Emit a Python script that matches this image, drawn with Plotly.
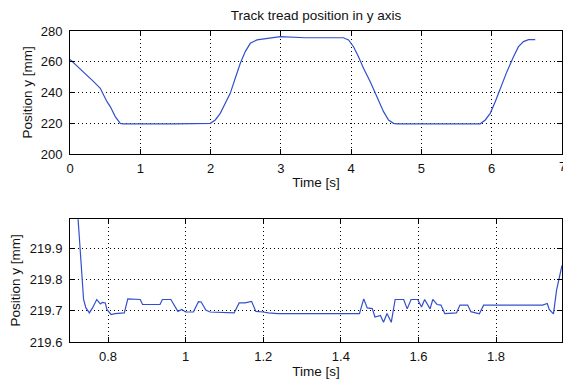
import plotly.graph_objects as go

# ---- Top panel: full trajectory ----
time_top = [0.000, 0.194, 0.336, 0.431, 0.526, 0.573, 0.644, 0.715, 0.760, 1.500, 1.996,
            2.067, 2.138, 2.209, 2.280, 2.351, 2.423, 2.494, 2.565, 2.660, 2.802, 2.992,
            3.345, 3.890, 3.963, 4.034, 4.105, 4.176, 4.272, 4.367, 4.461, 4.532, 4.603,
            4.650, 5.837, 5.908, 5.979, 6.050, 6.121, 6.216, 6.310, 6.381, 6.452, 6.524, 6.619]
pos_top = [261.6, 253.6, 247.1, 242.8, 234.1, 230.9, 224.4, 220.0, 219.7, 219.7, 220.0,
           222.2, 226.5, 233.0, 239.5, 249.3, 259.0, 266.6, 272.0, 274.2, 275.3, 276.3,
           275.6, 275.6, 274.2, 269.8, 263.3, 255.8, 247.1, 237.4, 227.6, 222.2, 220.0,
           219.7, 219.7, 222.2, 226.5, 234.1, 242.8, 253.6, 263.3, 269.8, 273.1, 274.4, 274.4]

# ---- Bottom panel: zoom on the first flat section ----
time_zoom = [0.702, 0.712, 0.723, 0.728, 0.733, 0.737, 0.743, 0.752, 0.760, 0.771, 0.780,
             0.786, 0.793, 0.797, 0.808, 0.818, 0.842, 0.851, 0.883, 0.889, 0.934, 0.940,
             0.962, 0.973, 0.980, 0.990, 1.000, 1.020, 1.033, 1.040, 1.052, 1.063, 1.125,
             1.138, 1.153, 1.170, 1.181, 1.200, 1.213, 1.238, 1.448, 1.459, 1.468, 1.481,
             1.488, 1.502, 1.510, 1.519, 1.530, 1.540, 1.562, 1.571, 1.581, 1.598, 1.608,
             1.616, 1.630, 1.637, 1.648, 1.658, 1.668, 1.698, 1.707, 1.727, 1.735, 1.757,
             1.768, 1.920, 1.932, 1.937, 1.948, 1.956, 1.970]
pos_zoom = [220.90, 220.35, 219.99, 219.886, 219.79, 219.736, 219.709, 219.693, 219.709, 219.736, 219.722,
            219.727, 219.725, 219.704, 219.688, 219.691, 219.693, 219.738, 219.736, 219.720, 219.720, 219.736,
            219.736, 219.714, 219.698, 219.704, 219.696, 219.696, 219.729, 219.728, 219.702, 219.696, 219.693,
            219.725, 219.725, 219.730, 219.698, 219.696, 219.693, 219.691, 219.691, 219.738, 219.709, 219.707,
            219.680, 219.685, 219.663, 219.691, 219.663, 219.736, 219.736, 219.706, 219.736, 219.736, 219.712,
            219.736, 219.706, 219.736, 219.720, 219.718, 219.691, 219.693, 219.718, 219.718, 219.697, 219.690,
            219.718, 219.718, 219.723, 219.704, 219.690, 219.766, 219.845]

top_xticks = [0, 1, 2, 3, 4, 5, 6, 7]
top_yticks = [200, 220, 240, 260, 280]
zoom_xticks = [0.8, 1.0, 1.2, 1.4, 1.6, 1.8]
zoom_xticklabels = ["0.8", "1", "1.2", "1.4", "1.6", "1.8"]
zoom_yticks = [219.6, 219.7, 219.8, 219.9]
zoom_yticklabels = ["219.6", "219.7", "219.8", "219.9"]

FONT = "Liberation Sans, Arial, Helvetica, sans-serif"
LINE_COLOR = "rgb(50,80,205)"

fig = go.Figure()
fig.add_trace(go.Scatter(x=time_top, y=pos_top, mode="lines",
                         line=dict(color=LINE_COLOR, width=1.2),
                         xaxis="x", yaxis="y", hoverinfo="skip"))
fig.add_trace(go.Scatter(x=time_zoom, y=pos_zoom, mode="lines",
                         line=dict(color=LINE_COLOR, width=1.2),
                         xaxis="x2", yaxis="y2", hoverinfo="skip"))

common = dict(showline=True, linecolor="black", linewidth=1, mirror="ticks",
              ticks="inside", ticklen=5, tickcolor="black", tickwidth=1,
              showgrid=True, gridcolor="black", gridwidth=1, griddash="1px,3px",
              zeroline=False, automargin=False,
              tickfont=dict(family=FONT, size=13, color="#111"))

title_font = dict(family=FONT, size=13.5, color="#111")

PLOT_L, PLOT_W = 70, 492

def ylabel(text, px, y_mid_paper):
    return dict(text=text, textangle=-90, xref="paper", yref="paper",
                x=(px - PLOT_L) / PLOT_W, y=y_mid_paper, xanchor="center", yanchor="middle",
                showarrow=False, font=title_font)

fig.update_layout(
    width=563, height=383, autosize=False,
    margin=dict(l=70, r=1, t=31, b=41),
    paper_bgcolor="white", plot_bgcolor="white",
    showlegend=False,
    title=dict(text="Track tread position in y axis", x=316 / 563, xref="container",
               xanchor="center", y=1 - 15 / 383, yref="container", yanchor="middle",
               font=dict(family=FONT, size=13.5, color="#111")),
    xaxis=dict(domain=[0, 1], anchor="y", range=[0, 7], tickvals=top_xticks,
               title=dict(text="Time [s]", font=title_font, standoff=2),
               ticklabelstandoff=2, **common),
    yaxis=dict(domain=[0.604, 1], anchor="x", range=[200, 280], tickvals=top_yticks,
               ticklabelstandoff=4, **common),
    xaxis2=dict(domain=[0, 1], anchor="y2", range=[0.702, 1.97], tickvals=zoom_xticks,
                ticktext=zoom_xticklabels,
                title=dict(text="Time [s]", font=title_font, standoff=2),
                ticklabelstandoff=2, **common),
    yaxis2=dict(domain=[0, 0.395], anchor="x2", range=[219.6, 219.993], tickvals=zoom_yticks,
                ticktext=zoom_yticklabels,
                ticklabelstandoff=4, **common),
    annotations=[
        dict(text="7", x=7, y=200, xref="x", yref="y", xanchor="center",
             yanchor="top", yshift=-3, showarrow=False,
             font=dict(family=FONT, size=13, color="#111")),
        ylabel("Position y [mm]", 28, 0.802),
        ylabel("Position y [mm]", 16, 0.1975),
    ],
)

fig.write_html("out.html", config={"displayModeBar": False},
               post_script="document.body.style.margin='0';document.body.style.overflow='hidden';")
